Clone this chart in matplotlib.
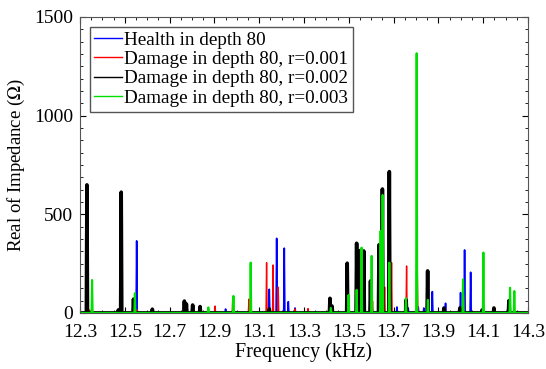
import numpy as np
import matplotlib.pyplot as plt
from matplotlib.ticker import FixedLocator, MultipleLocator

plt.rcParams['font.family'] = ['Liberation Serif', 'DejaVu Serif']
plt.rcParams['mathtext.fontset'] = 'stix'

# resonance peaks: (frequency in kHz, real impedance in ohm)
health_f = [12.553, 12.950, 13.145, 13.178, 13.212, 13.230, 13.260, 13.715, 13.765, 13.810, 13.835,
            13.873, 13.932, 13.999, 14.017, 14.044]
health_z = [365, 20, 120, 378, 328, 57, 25, 30, 25, 30, 25, 108, 49, 103, 319, 206]

r001_f = [12.343, 12.556, 12.903, 12.982, 13.054, 13.133, 13.162, 13.185, 13.260, 13.318, 13.566,
          13.606, 13.660, 13.691, 13.758, 13.806, 14.012]
r001_z = [15, 15, 35, 83, 70, 255, 243, 130, 20, 22, 100, 60, 130, 255, 238, 200, 90]

r002_f = [12.331, 12.471, 12.484, 12.539, 12.623, 12.766, 12.775, 12.803, 12.836, 13.145, 13.416,
          13.425, 13.493, 13.535, 13.550, 13.567, 13.597, 13.635, 13.650, 13.681, 13.756, 13.852,
          13.925, 13.996, 14.095, 14.148, 14.215]
r002_z = [649, 15, 612, 70, 19, 60, 45, 40, 32, 20, 74, 35, 252, 353, 316, 314, 162, 345, 628, 716,
          65, 213, 25, 25, 15, 25, 62]

r003_f = [12.354, 12.545, 12.873, 12.985, 13.062, 13.420, 13.499, 13.535, 13.557, 13.602, 13.642,
          13.651, 13.681, 13.755, 13.803, 13.853, 14.010, 14.101, 14.220, 14.239]
r003_z = [167, 100, 28, 86, 255, 25, 91, 117, 331, 289, 415, 598, 255, 75, 1316, 66, 170, 306, 128, 111]

xticks = ['12.3', '12.5', '12.7', '12.9', '13.1', '13.3', '13.5', '13.7', '13.9', '14.1', '14.3']


def trace(freqs, values, hw=0.0025):
    x = [12.3]
    y = [0]
    for f, v in sorted(zip(freqs, values)):
        x += [f - hw, f, f + hw]
        y += [0, v, 0]
    x.append(14.3)
    y.append(0)
    return x, y


fig = plt.figure(figsize=(5.46, 3.69), dpi=100)
ax = fig.add_axes([0.1465, 0.152, 0.8205, 0.802])

x, y = trace(health_f, health_z)
ax.plot(x, y, color='#0000ff', linewidth=1.2, label='Health in depth 80')
x, y = trace(r001_f, r001_z)
ax.plot(x, y, color='#ff0000', linewidth=1.0, label='Damage in depth 80, r=0.001')
x, y = trace(r002_f, r002_z)
ax.plot(x, y, color='#000000', linewidth=2.6, label='Damage in depth 80, r=0.002')
x, y = trace(r003_f, r003_z)
ax.plot(x, y, color='#00e000', linewidth=1.5, label='Damage in depth 80, r=0.003')

ax.set_xlim(12.3, 14.3)
ax.set_ylim(0, 1500)
ax.xaxis.set_major_locator(FixedLocator([float(t) for t in xticks]))
ax.set_xticklabels(xticks)
ax.xaxis.set_minor_locator(FixedLocator(np.arange(12.3, 14.31, 0.05)))
ax.yaxis.set_major_locator(MultipleLocator(500))
ax.yaxis.set_minor_locator(MultipleLocator(62.5))
ax.tick_params(which='both', direction='in', top=True, right=True, labelsize=14)
ax.tick_params(which='major', length=4)
ax.tick_params(which='minor', length=2.5)
ax.tick_params(axis='x', pad=8)
ax.tick_params(axis='y', pad=5)
for s in ax.spines.values():
    s.set_color('#555555')

ax.set_xlabel('Frequency (kHz)', fontsize=14.5, labelpad=1)
ax.set_ylabel('Real of Impedance ($\\Omega$)', fontsize=13.5, labelpad=5)

leg = ax.legend(loc='upper left', fontsize=13.8, handlelength=1.45, handletextpad=0.1,
                borderpad=0.25, labelspacing=0.1, borderaxespad=0.5, fancybox=False, framealpha=1)
leg.get_frame().set_edgecolor('#555555')
leg.get_frame().set_linewidth(1.0)
for line in leg.get_lines():
    line.set_linewidth(1.0)

fig.savefig('out.png', dpi=100)
